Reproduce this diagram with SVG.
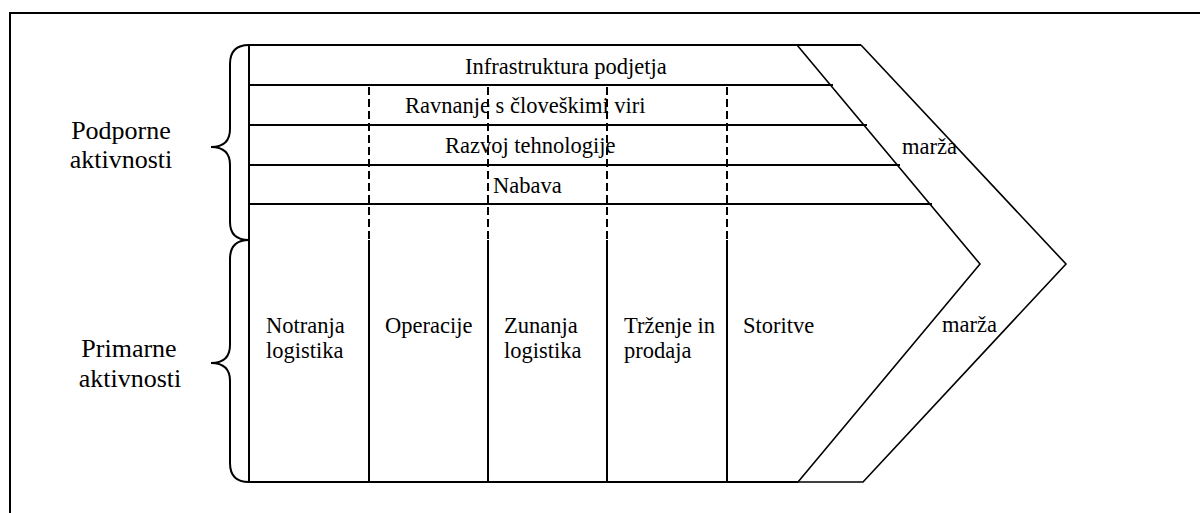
<svg xmlns="http://www.w3.org/2000/svg" width="1200" height="513" viewBox="0 0 1200 513">
  <style>
    .ln { stroke: #000; stroke-width: 2; fill: none; }
    .thin { stroke: #000; stroke-width: 1.6; fill: none; }
    .dash { stroke: #000; stroke-width: 2; fill: none; stroke-dasharray: 8 4; }
    .t { font-family: 'Liberation Serif', 'Times New Roman', Times, serif; font-size: 22.5px; fill: #000; }
    .tl { font-family: 'Liberation Serif', 'Times New Roman', Times, serif; font-size: 26px; fill: #000; text-anchor: middle; }
  </style>
  <rect width="1200" height="513" fill="#fff"/>
  <path class="ln" d="M10,513 V13 H1200"/>

  <g id="braces">
    <path class="ln" d="M249,45 Q230,45 230,64 V129 Q230,147 211,147 Q230,147 230,165 V222 Q230,240 249,240"/>
    <path class="ln" d="M249,240 Q230,240 230,259 V345 Q230,363 211,363 Q230,363 230,381 V463 Q230,482 249,482"/>
  </g>
  <g id="labels-left">
    <text class="tl" x="121" y="139">Podporne</text>
    <text class="tl" x="121" y="168">aktivnosti</text>
    <text class="tl" x="129" y="357">Primarne</text>
    <text class="tl" x="130" y="387">aktivnosti</text>
  </g>

  <g id="frame">
    <path class="ln" d="M249,45 V482 H798"/>
    <path class="ln" d="M249,45 H861"/>
    <path class="thin" d="M797,45 L980,264 L798,482"/>
    <path class="thin" d="M861,45 L1066,264 L863,482 H798"/>
  </g>

  <g id="support-rows">
    <line class="ln" x1="249" y1="85" x2="833" y2="85"/>
    <line class="ln" x1="249" y1="125" x2="867" y2="125"/>
    <line class="ln" x1="249" y1="165" x2="900" y2="165"/>
    <line class="ln" x1="249" y1="204" x2="932" y2="204"/>
  </g>

  <g id="columns">
    <line class="dash" x1="369" y1="87" x2="369" y2="240"/>
    <line class="dash" x1="488" y1="87" x2="488" y2="240"/>
    <line class="dash" x1="607" y1="87" x2="607" y2="240"/>
    <line class="dash" x1="727" y1="87" x2="727" y2="240"/>
    <line class="ln" x1="369" y1="240" x2="369" y2="482"/>
    <line class="ln" x1="488" y1="240" x2="488" y2="482"/>
    <line class="ln" x1="607" y1="240" x2="607" y2="482"/>
    <line class="ln" x1="727" y1="240" x2="727" y2="482"/>
  </g>

  <g id="support-labels">
    <text class="t" x="465" y="74">Infrastruktura podjetja</text>
    <text class="t" x="405" y="113">Ravnanje s človeškimi viri</text>
    <text class="t" x="445" y="153">Razvoj tehnologije</text>
    <text class="t" x="493" y="193">Nabava</text>
    <text class="t" x="902" y="154">marža</text>
  </g>

  <g id="primary-labels">
    <text class="t" x="266" y="333">Notranja</text>
    <text class="t" x="266" y="358">logistika</text>
    <text class="t" x="385" y="333">Operacije</text>
    <text class="t" x="504" y="333">Zunanja</text>
    <text class="t" x="504" y="358">logistika</text>
    <text class="t" x="624" y="333">Trženje in</text>
    <text class="t" x="624" y="358">prodaja</text>
    <text class="t" x="743" y="333">Storitve</text>
    <text class="t" x="942" y="332">marža</text>
  </g>
</svg>
